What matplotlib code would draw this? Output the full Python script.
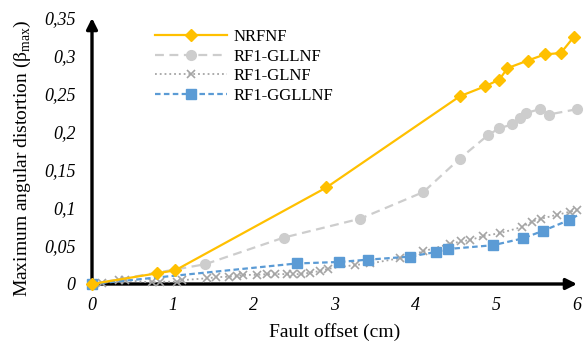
import numpy as np
import matplotlib
matplotlib.use("Agg")
import matplotlib.pyplot as plt

# NRFNF
nr_x = [0, 0.8, 1.03, 2.9, 4.55, 4.86, 5.04, 5.14, 5.39, 5.60, 5.80, 5.96]
nr_y = [0, 0.014, 0.018, 0.127, 0.247, 0.26, 0.269, 0.284, 0.294, 0.302, 0.304, 0.325]

# RF1-GLLNF
gll_x = [0, 1.40, 2.37, 3.32, 4.10, 4.55, 4.90, 5.04, 5.20, 5.30, 5.37, 5.54, 5.65, 6.0]
gll_y = [0, 0.026, 0.061, 0.086, 0.121, 0.165, 0.196, 0.205, 0.21, 0.219, 0.225, 0.23, 0.223, 0.23]

# RF1-GLNF
gl_x = [0, 0.12, 0.34, 0.41, 0.74, 0.84, 1.05, 1.11, 1.42, 1.54, 1.69, 1.79, 1.87,
        2.04, 2.16, 2.26, 2.41, 2.49, 2.59, 2.70, 2.82, 2.92, 3.25, 3.44, 3.81,
        4.10, 4.43, 4.57, 4.68, 4.84, 5.05, 5.32, 5.44, 5.56, 5.75, 5.91, 6.0]
gl_y = [0, 0.001, 0.005, 0.005, 0.002, 0.003, 0.003, 0.005, 0.0075, 0.009, 0.0096, 0.0105, 0.012,
        0.012, 0.013, 0.013, 0.013, 0.013, 0.013, 0.015, 0.017, 0.02, 0.025, 0.027, 0.034,
        0.043, 0.053, 0.056, 0.058, 0.063, 0.067, 0.075, 0.082, 0.086, 0.091, 0.095, 0.097]

# RF1-GGLLNF
ggl_x = [0, 2.53, 3.06, 3.41, 3.93, 4.25, 4.40, 4.96, 5.33, 5.58, 5.90, 6.0]
ggl_y = [0, 0.027, 0.029, 0.032, 0.036, 0.042, 0.046, 0.051, 0.06, 0.07, 0.084, 0.09]

x_ticks = [0, 1, 2, 3, 4, 5, 6]
y_ticks = [0, 0.05, 0.1, 0.15, 0.2, 0.25, 0.3, 0.35]

plt.rcParams['font.family'] = ['Liberation Serif', 'DejaVu Serif']
plt.rcParams['mathtext.fontset'] = 'custom'
plt.rcParams['mathtext.rm'] = 'Liberation Serif'

fig = plt.figure(figsize=(5.88, 3.5), dpi=100)
ax = fig.add_axes([92/588, 66/350, 485/588, 266/350])

ax.plot(gll_x, gll_y, color='#CDCDCD', lw=1.6, dashes=(4, 2.5), marker='o', ms=7,
        label='RF1-GLLNF', zorder=2, clip_on=False)
ax.plot(gl_x, gl_y, color='#A5A5A5', lw=1.3, ls=':', marker='x', ms=5.5, mew=1.2,
        label='RF1-GLNF', zorder=3, clip_on=False)
ax.plot(ggl_x, ggl_y, color='#5B9BD5', lw=1.6, dashes=(2.5, 1.5), marker='s', ms=6.5,
        markevery=list(range(len(ggl_x) - 1)), label='RF1-GGLLNF', zorder=4, clip_on=False)
ax.plot(nr_x, nr_y, color='#FFC000', lw=1.6, marker='D', ms=6.5,
        label='NRFNF', zorder=5, clip_on=False)

ax.set_xlim(0, 6)
ax.set_ylim(0, 0.35)
ax.set_xticks(x_ticks)
ax.set_xticklabels([str(v) for v in x_ticks], fontstyle='italic', fontsize=13)
ax.set_yticks(y_ticks)
ax.set_yticklabels(['0' if v == 0 else ('%g' % v).replace('.', ',') for v in y_ticks],
                   fontstyle='italic', fontsize=13)
ax.tick_params(axis='x', length=0, pad=9)
ax.tick_params(axis='y', length=0, pad=12)
for s in ax.spines.values():
    s.set_visible(False)

ax.annotate('', xy=(0, 1), xytext=(0, 0), xycoords='axes fraction',
            arrowprops=dict(arrowstyle='-|>', lw=2.4, color='black', mutation_scale=16,
                            shrinkA=0, shrinkB=0), annotation_clip=False, zorder=1)
ax.annotate('', xy=(1, 0), xytext=(0, 0), xycoords='axes fraction',
            arrowprops=dict(arrowstyle='-|>', lw=2.4, color='black', mutation_scale=16,
                            shrinkA=0, shrinkB=0), annotation_clip=False, zorder=1)

ax.set_xlabel('Fault offset (cm)', fontsize=14, va='center')
ax.xaxis.set_label_coords(0.5, -0.18)
ax.set_ylabel(r'Maximum angular distortion (β$_{\mathrm{max}}$)', fontsize=14, va='center')
ax.yaxis.set_label_coords(-0.144, 0.472)

h, l = ax.get_legend_handles_labels()
order = [3, 0, 1, 2]
ax.legend([h[i] for i in order], [l[i] for i in order], loc='upper left',
          bbox_to_anchor=(155/588, 1 - 29/350), bbox_transform=fig.transFigure,
          frameon=False, fontsize=12, handlelength=4.3, handletextpad=0.4,
          labelspacing=0.22, borderpad=0, borderaxespad=0)

fig.savefig('out.png', dpi=100)
